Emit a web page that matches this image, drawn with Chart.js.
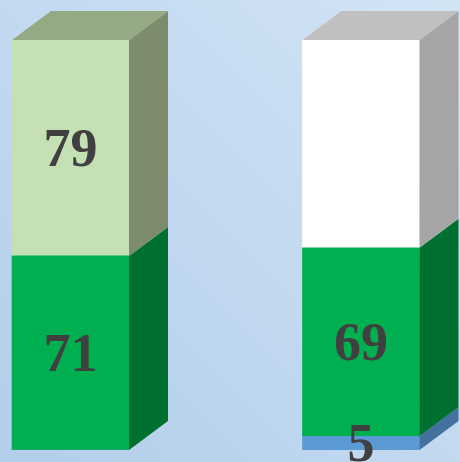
<!DOCTYPE html>
<html>
<head>
<meta charset="utf-8">
<script src="https://cdn.jsdelivr.net/npm/chart.js@4"></script>
<style>
  html, body { margin: 0; padding: 0; }
  body {
    width: 460px; height: 462px; overflow: hidden;
    background: linear-gradient(to top right, #b2ceeb, #d3e4f5);
  }
  canvas { display: block; }
</style>
</head>
<body>
<canvas id="chart" width="460" height="462"></canvas>
<script>
// data
var positions = [0, 1];
var bottomValues = [0, 5];
var middleValues = [71, 69];
var topValues = [79, 76];
var topShowLabel = [true, false];

// colours: front, side, top
var bottomColors = { front: '#5b9bd5', side: '#41719c', top: '#4d83b8' };
var middleColors = { front: '#00b050', side: '#007030', top: '#008c3f' };
var topColors = {
    front: ['#c5e0b4', '#ffffff'],
    side: ['#7e8c6e', '#a5a5a5'],
    top: ['#93aa84', '#c0c0c0']
};

var DX = 39, DY = 29;

function pick(c, i) { return Array.isArray(c) ? c[i] : c; }

function toPoints(values) {
    var pts = [];
    for (var i = 0; i < values.length; i++) {
        pts.push({ x: positions[i], y: values[i] });
    }
    return pts;
}

var faces3d = {
    id: 'faces3d',
    afterDatasetsDraw: function (chart) {
        var ctx = chart.ctx;
        var sets = chart.data.datasets;
        ctx.save();
        // side + top faces
        for (var d = 0; d < sets.length; d++) {
            var meta = chart.getDatasetMeta(d);
            var colors = sets[d].faceColors;
            meta.data.forEach(function (bar, i) {
                if (!sets[d].data[i].y) return;
                var p = bar.getProps(['x', 'y', 'base', 'width'], true);
                var left = p.x - p.width / 2, right = p.x + p.width / 2;
                var top = Math.min(p.y, p.base), bottom = Math.max(p.y, p.base);
                ctx.fillStyle = pick(colors.side, i);
                ctx.beginPath();
                ctx.moveTo(right, top);
                ctx.lineTo(right + DX, top - DY);
                ctx.lineTo(right + DX, bottom - DY);
                ctx.lineTo(right, bottom);
                ctx.closePath();
                ctx.fill();
                if (d === sets.length - 1) {
                    ctx.fillStyle = pick(colors.top, i);
                    ctx.beginPath();
                    ctx.moveTo(left, top);
                    ctx.lineTo(left + DX, top - DY);
                    ctx.lineTo(right + DX, top - DY);
                    ctx.lineTo(right, top);
                    ctx.closePath();
                    ctx.fill();
                }
            });
        }
        // value labels
        ctx.font = 'bold 54px "Liberation Serif", "Times New Roman", serif';
        ctx.fillStyle = '#404040';
        ctx.textAlign = 'center';
        ctx.textBaseline = 'middle';
        for (var d2 = 0; d2 < sets.length; d2++) {
            var meta2 = chart.getDatasetMeta(d2);
            meta2.data.forEach(function (bar, i) {
                var v = sets[d2].data[i].y;
                if (!v) return;
                if (sets[d2].showLabel && !sets[d2].showLabel[i]) return;
                var p = bar.getProps(['x', 'y', 'base'], true);
                ctx.fillText(String(v), p.x, (p.y + p.base) / 2 + 4);
            });
        }
        ctx.restore();
    }
};

new Chart(document.getElementById('chart').getContext('2d'), {
    type: 'bar',
    data: {
        datasets: [
            {
                label: 'bottom',
                data: toPoints(bottomValues),
                backgroundColor: bottomColors.front,
                faceColors: bottomColors
            },
            {
                label: 'middle',
                data: toPoints(middleValues),
                backgroundColor: middleColors.front,
                faceColors: middleColors
            },
            {
                label: 'top',
                data: toPoints(topValues),
                backgroundColor: topColors.front,
                faceColors: topColors,
                showLabel: topShowLabel
            }
        ]
    },
    options: {
        responsive: false,
        animation: false,
        barThickness: 117,
        layout: { padding: { top: 40, bottom: 12, left: 0, right: 0 } },
        plugins: {
            legend: { display: false },
            tooltip: { enabled: false }
        },
        scales: {
            x: {
                type: 'linear',
                stacked: true,
                display: false,
                offset: false,
                min: -0.2427,
                max: 1.3408
            },
            y: {
                stacked: true,
                display: false,
                min: 0,
                max: 150
            }
        }
    },
    plugins: [faces3d]
});
</script>
</body>
</html>
